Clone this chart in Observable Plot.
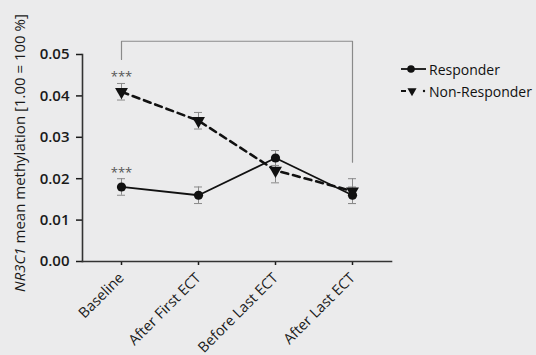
<!DOCTYPE html>
<html>
<head>
<meta charset="utf-8">
<script src="https://cdn.jsdelivr.net/npm/d3@7"></script>
<script src="https://cdn.jsdelivr.net/npm/@observablehq/plot@0.6"></script>
<style>
  html, body { margin: 0; padding: 0; background: #ebebec; }
  #wrap { position: relative; width: 536px; height: 355px; font-family: "Open Sans", sans-serif; }
  #legend { position: absolute; left: 401px; top: 58px; font-size: 14px; color: #111; }
  #legend div { display: flex; align-items: center; height: 22px; }
  #legend svg { margin-right: 1px; }
</style>
</head>
<body>
<div id="wrap"><div id="chart"></div><div id="legend"></div></div>
<script>
const categories = ["Baseline", "After First ECT", "Before Last ECT", "After Last ECT"];
const responderMean = [0.018, 0.016, 0.025, 0.016];
const responderErr = [0.002, 0.002, 0.0018, 0.002];
const nonResponderMean = [0.041, 0.034, 0.022, 0.017];
const nonResponderErr = [0.002, 0.002, 0.003, 0.003];
const yTicks = [0, 0.01, 0.02, 0.03, 0.04, 0.05];
const seriesNames = ["Responder", "Non-Responder"];
const sigLabel = "***";
const yTitleItalic = "NR3C1";
const yTitleRest = " mean methylation [1.00 = 100 %]";

const responder = categories.map((c, i) => ({x: c, y: responderMean[i], lo: responderMean[i] - responderErr[i], hi: responderMean[i] + responderErr[i]}));
const nonResponder = categories.map((c, i) => ({x: c, y: nonResponderMean[i], lo: nonResponderMean[i] - nonResponderErr[i], hi: nonResponderMean[i] + nonResponderErr[i]}));
const bracket = [
  {x: categories[0], y: 0.0488},
  {x: categories[0], y: 0.0532},
  {x: categories[3], y: 0.0532},
  {x: categories[3], y: 0.024}
];
const stars = [
  {x: categories[0], y: 0.0446},
  {x: categories[0], y: 0.0213}
];

const errColor = "#8a8a8a";
const cap = (data, key) => Plot.ruleY(data, {y: key, x1: "x", x2: "x", stroke: errColor, strokeWidth: 1, insetLeft: -4, insetRight: -4});
const chart = Plot.plot({
  width: 536,
  height: 355,
  marginLeft: 82,
  marginRight: 145,
  marginTop: 54,
  marginBottom: 94,
  style: {background: "transparent", fontFamily: "Open Sans, sans-serif", overflow: "visible", color: "#1a1a1a"},
  x: {type: "point", domain: categories, padding: 0.5},
  y: {domain: [0, 0.05]},
  marks: [
    Plot.axisY({ticks: yTicks, tickFormat: d => d.toFixed(2), tickSize: 6, tickPadding: 7, fontSize: 15, fontWeight: 600, label: null, strokeWidth: 1.5}),
    Plot.axisX({tickSize: 4, tickPadding: 10, tickRotate: -45, fontSize: 14.5, label: null, strokeWidth: 1.5}),
    Plot.frame({anchor: "left", stroke: "#333", strokeWidth: 1.6}),
    Plot.frame({anchor: "bottom", stroke: "#333", strokeWidth: 1.6}),
    Plot.line(bracket, {x: "x", y: "y", stroke: "#8a8a8a", strokeWidth: 1.2}),
    Plot.text([sigLabel], {x: categories[1], y: 0.0551, text: d => d, dx: 31, fontSize: 13, fill: "#555"}),
    Plot.text(stars, {x: "x", y: "y", text: () => sigLabel, fontSize: 13, fill: "#555"}),
    Plot.ruleX(nonResponder, {x: "x", y1: "lo", y2: "hi", stroke: errColor, strokeWidth: 1}),
    cap(nonResponder, "lo"),
    cap(nonResponder, "hi"),
    Plot.ruleX(responder, {x: "x", y1: "lo", y2: "hi", stroke: errColor, strokeWidth: 1}),
    cap(responder, "lo"),
    cap(responder, "hi"),
    Plot.line(nonResponder, {x: "x", y: "y", stroke: "#111", strokeWidth: 2.6, strokeDasharray: "7,5"}),
    Plot.line(responder, {x: "x", y: "y", stroke: "#111", strokeWidth: 1.8}),
    Plot.dot(nonResponder, {x: "x", y: "y", symbol: "triangle", rotate: 180, r: 4.8, fill: "#111"}),
    Plot.dot(responder, {x: "x", y: "y", symbol: "circle", r: 4.6, fill: "#111"})
  ]
});
document.getElementById("chart").appendChild(chart);

// Y axis title with italic gene name
const svg = d3.select(chart);
const t = svg.append("text")
  .attr("transform", "translate(21,153) rotate(-90)")
  .attr("text-anchor", "middle")
  .attr("font-size", 15)
  .attr("fill", "#1a1a1a")
  .attr("dominant-baseline", "middle");
t.append("tspan").attr("font-style", "italic").text(yTitleItalic);
t.append("tspan").text(yTitleRest);

// Legend
const legend = d3.select("#legend");
const r1 = legend.append("div");
const s1 = r1.append("svg").attr("width", 27).attr("height", 12);
s1.append("line").attr("x1", 0).attr("x2", 25).attr("y1", 6).attr("y2", 6).attr("stroke", "#111").attr("stroke-width", 1.8);
s1.append("circle").attr("cx", 10).attr("cy", 6).attr("r", 3.8).attr("fill", "#111");
r1.append("span").text(seriesNames[0]);
const r2 = legend.append("div");
const s2 = r2.append("svg").attr("width", 27).attr("height", 12);
s2.append("line").attr("x1", 0).attr("x2", 5).attr("y1", 6).attr("y2", 6).attr("stroke", "#111").attr("stroke-width", 2);
s2.append("path").attr("d", d3.symbol(d3.symbolTriangle, 36)()).attr("transform", "translate(11,6) rotate(180)").attr("fill", "#111");
s2.append("circle").attr("cx", 23).attr("cy", 6).attr("r", 1.2).attr("fill", "#111");
r2.append("span").text(seriesNames[1]);
</script>
</body>
</html>
